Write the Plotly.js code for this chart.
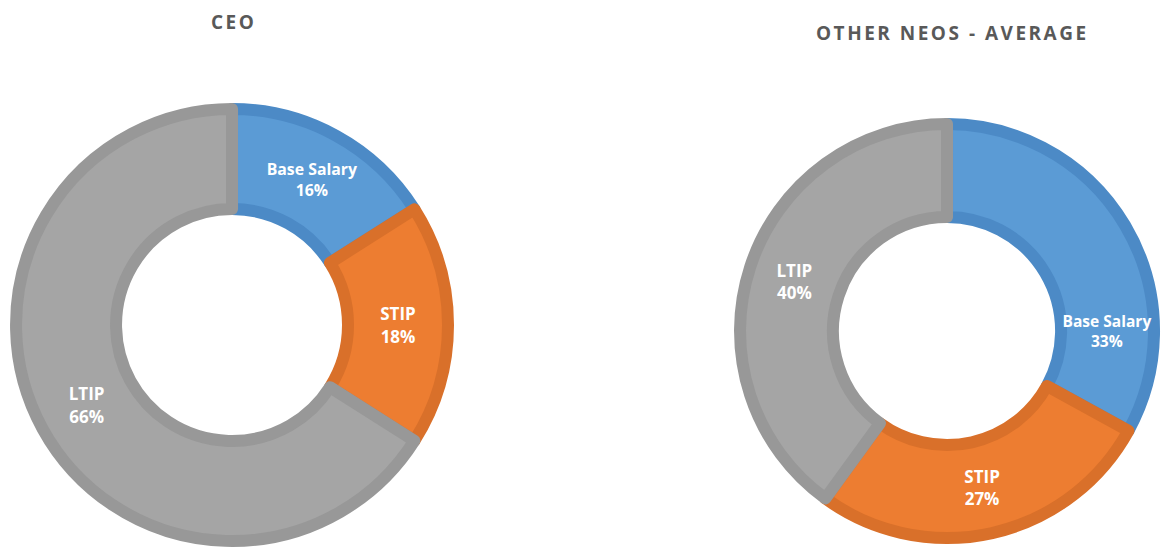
<!DOCTYPE html>
<html>
<head>
<meta charset="utf-8">
<script src="https://cdn.plot.ly/plotly-3.0.1.min.js"></script>
<style>
  html, body { margin: 0; padding: 0; background: #ffffff; }
  #myDiv { width: 1161px; height: 550px; }
  .annotation-text { letter-spacing: 2.5px; }
</style>
</head>
<body>
<div id="myDiv"></div>
<script>
var labels = ['Base Salary', 'STIP', 'LTIP'];
var ceoValues = [16, 18, 66];
var neoValues = [33, 27, 40];
var chartTitles = ['CEO', 'OTHER NEOS - AVERAGE'];

var fillColors = ['#5b9bd5', '#ed7d31', '#a5a5a5'];
var edgeColors = ['#4c8ac6', '#d9702a', '#989898'];

function donut(values, xdom, ydom, hole) {
  return {
    type: 'pie',
    labels: labels,
    values: values,
    sort: false,
    direction: 'clockwise',
    hole: hole,
    domain: {x: xdom, y: ydom},
    marker: {colors: fillColors, line: {color: edgeColors, width: 12}},
    texttemplate: '%{label}<br>%{value}%',
    textposition: 'inside',
    insidetextorientation: 'horizontal',
    textfont: {family: 'Open Sans', size: 17, color: '#ffffff', weight: 'bold'},
    showlegend: false,
    hoverinfo: 'label+percent'
  };
}

var data = [
  donut(ceoValues, [0.0138, 0.3859], [0.0164, 0.8018], 0.537),
  donut(neoValues, [0.6374, 0.9940], [0.0218, 0.7745], 0.551)
];

var titleFont = {family: 'Open Sans', size: 19, color: '#595959', weight: 'bold'};

var layout = {
  width: 1161,
  height: 550,
  margin: {l: 0, r: 0, t: 0, b: 0},
  paper_bgcolor: '#ffffff',
  annotations: [
    {text: chartTitles[0], x: 0.2007, y: 0.96, xref: 'paper', yref: 'paper',
     xanchor: 'center', yanchor: 'middle', showarrow: false, font: titleFont},
    {text: chartTitles[1], x: 0.8200, y: 0.94, xref: 'paper', yref: 'paper',
     xanchor: 'center', yanchor: 'middle', showarrow: false, font: titleFont}
  ]
};

Plotly.newPlot('myDiv', data, layout, {displayModeBar: false});
</script>
</body>
</html>
